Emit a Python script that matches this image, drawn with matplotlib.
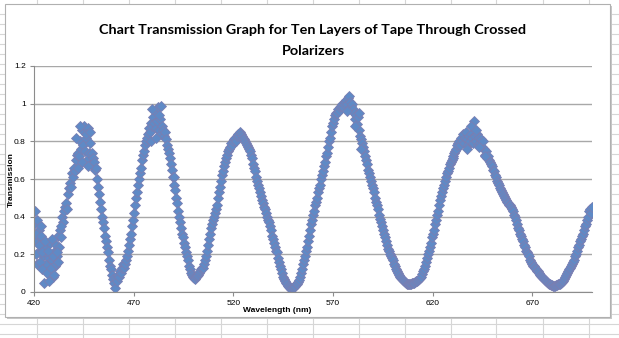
import numpy as np
import matplotlib
matplotlib.use("Agg")
import matplotlib.pyplot as plt
from matplotlib.lines import Line2D
from matplotlib.patches import Rectangle

# transmission readings, one every 0.5 nm from 420 to 700 nm
wavelength = np.arange(420.0, 700.01, 0.5)
transmission = [
    0.36, 0.43, 0.30, 0.38, 0.27, 0.33, 0.22, 0.35, 0.26, 0.19,
    0.05, 0.24, 0.15, 0.20, 0.10, 0.18, 0.26, 0.12, 0.17, 0.08,
    0.21, 0.14, 0.25, 0.19, 0.30, 0.24, 0.33, 0.29, 0.40, 0.37,
    0.43, 0.45, 0.47, 0.44, 0.52, 0.55, 0.58, 0.56, 0.63, 0.61,
    0.66, 0.64, 0.70, 0.73, 0.74, 0.72, 0.80, 0.76, 0.86, 0.78,
    0.88, 0.75, 0.82, 0.70, 0.87, 0.74, 0.79, 0.68, 0.74, 0.71,
    0.69, 0.65, 0.66, 0.60, 0.56, 0.52, 0.48, 0.44, 0.40, 0.37,
    0.34, 0.30, 0.27, 0.24, 0.21, 0.17, 0.14, 0.12, 0.09, 0.07,
    0.05, 0.02, 0.07, 0.06, 0.09, 0.08, 0.11, 0.10, 0.13, 0.15,
    0.13, 0.15, 0.17, 0.19, 0.22, 0.25, 0.28, 0.31, 0.35, 0.38,
    0.42, 0.46, 0.50, 0.53, 0.57, 0.60, 0.63, 0.66, 0.70, 0.73,
    0.75, 0.78, 0.80, 0.82, 0.84, 0.87, 0.85, 0.90, 0.88, 0.93,
    0.90, 0.96, 0.87, 0.91, 0.98, 0.86, 0.92, 0.84, 0.88, 0.86,
    0.83, 0.85, 0.81, 0.78, 0.76, 0.74, 0.71, 0.68, 0.65, 0.61,
    0.61, 0.57, 0.54, 0.50, 0.47, 0.43, 0.40, 0.37, 0.34, 0.31,
    0.29, 0.26, 0.24, 0.21, 0.19, 0.17, 0.14, 0.12, 0.10, 0.09,
    0.08, 0.075, 0.07, 0.08, 0.085, 0.09, 0.10, 0.11, 0.12, 0.13,
    0.13, 0.15, 0.17, 0.19, 0.22, 0.25, 0.28, 0.31, 0.34, 0.36,
    0.38, 0.40, 0.42, 0.44, 0.46, 0.50, 0.53, 0.56, 0.59, 0.62,
    0.64, 0.67, 0.69, 0.71, 0.73, 0.75, 0.76, 0.77, 0.79, 0.78,
    0.80, 0.81, 0.82, 0.80, 0.83, 0.84, 0.83, 0.85, 0.84, 0.83,
    0.82, 0.81, 0.80, 0.79, 0.78, 0.77, 0.76, 0.75, 0.73, 0.71,
    0.68, 0.66, 0.64, 0.61, 0.59, 0.57, 0.55, 0.53, 0.51, 0.49,
    0.47, 0.45, 0.44, 0.42, 0.40, 0.38, 0.37, 0.35, 0.33, 0.30,
    0.28, 0.26, 0.24, 0.22, 0.21, 0.18, 0.16, 0.14, 0.12, 0.10,
    0.08, 0.07, 0.06, 0.05, 0.04, 0.03, 0.025, 0.02, 0.015, 0.02,
    0.02, 0.025, 0.03, 0.04, 0.045, 0.055, 0.065, 0.08, 0.10, 0.12,
    0.15, 0.17, 0.19, 0.22, 0.24, 0.27, 0.30, 0.33, 0.36, 0.38,
    0.41, 0.43, 0.46, 0.48, 0.50, 0.53, 0.55, 0.57, 0.60, 0.62,
    0.64, 0.67, 0.69, 0.72, 0.74, 0.77, 0.80, 0.82, 0.85, 0.88,
    0.90, 0.92, 0.94, 0.95, 0.95, 0.97, 0.96, 0.98, 0.99, 1.00,
    0.98, 1.00, 1.01, 1.02, 1.00, 1.03, 1.04, 1.01, 0.99, 1.00,
    0.97, 0.95, 0.92, 0.94, 0.89, 0.93, 0.86, 0.83, 0.81, 0.79,
    0.77, 0.75, 0.72, 0.70, 0.68, 0.65, 0.63, 0.61, 0.59, 0.57,
    0.55, 0.53, 0.50, 0.48, 0.46, 0.44, 0.41, 0.39, 0.37, 0.35,
    0.33, 0.31, 0.29, 0.27, 0.25, 0.23, 0.22, 0.20, 0.19, 0.18,
    0.17, 0.15, 0.14, 0.12, 0.11, 0.10, 0.09, 0.08, 0.075, 0.07,
    0.065, 0.06, 0.055, 0.05, 0.045, 0.04, 0.04, 0.04, 0.045, 0.05,
    0.05, 0.05, 0.055, 0.06, 0.06, 0.065, 0.07, 0.075, 0.08, 0.095,
    0.11, 0.12, 0.14, 0.16, 0.18, 0.20, 0.22, 0.24, 0.26, 0.29,
    0.31, 0.33, 0.36, 0.38, 0.41, 0.43, 0.46, 0.49, 0.51, 0.53,
    0.55, 0.57, 0.59, 0.61, 0.63, 0.64, 0.66, 0.68, 0.69, 0.70,
    0.71, 0.72, 0.74, 0.75, 0.76, 0.78, 0.79, 0.80, 0.78, 0.82,
    0.80, 0.84, 0.79, 0.82, 0.85, 0.81, 0.78, 0.83, 0.80, 0.84,
    0.82, 0.79, 0.91, 0.83, 0.80, 0.84, 0.78, 0.82, 0.79, 0.81,
    0.77, 0.80, 0.76, 0.73, 0.75, 0.71, 0.72, 0.70, 0.69, 0.68,
    0.67, 0.65, 0.64, 0.62, 0.61, 0.59, 0.58, 0.57, 0.55, 0.54,
    0.53, 0.52, 0.51, 0.50, 0.49, 0.48, 0.47, 0.46, 0.46, 0.45,
    0.44, 0.43, 0.41, 0.40, 0.38, 0.36, 0.34, 0.33, 0.31, 0.30,
    0.28, 0.27, 0.25, 0.24, 0.22, 0.21, 0.20, 0.19, 0.17, 0.16,
    0.15, 0.14, 0.14, 0.13, 0.12, 0.11, 0.11, 0.10, 0.09, 0.085,
    0.08, 0.075, 0.07, 0.065, 0.06, 0.055, 0.05, 0.045, 0.04, 0.035,
    0.035, 0.03, 0.03, 0.03, 0.035, 0.035, 0.04, 0.04, 0.045, 0.05,
    0.055, 0.06, 0.07, 0.08, 0.09, 0.10, 0.11, 0.12, 0.13, 0.14,
    0.15, 0.16, 0.17, 0.19, 0.20, 0.22, 0.24, 0.25, 0.27, 0.28,
    0.30, 0.31, 0.33, 0.35, 0.36, 0.38, 0.40, 0.43, 0.44, 0.42,
    0.45,
]

# repeat readings in the noisy stretches
extra_wl = [420.2, 420.8, 421.2, 421.7, 422.3, 422.8, 423.3, 423.8, 424.2,
            425.7, 426.3, 427.2, 427.7, 428.3, 428.8, 429.3, 430.2, 430.8,
            431.3, 432.2, 433.3, 441.2, 442.3, 443.2, 444.2, 446.2, 447.2,
            448.3, 478.8, 479.3, 481.2, 482.7, 483.8, 577.2, 581.3, 583.3,
            584.2, 637.3, 639.2, 641.7, 643.3, 646.3]
extra_t = [0.27, 0.31, 0.20, 0.15, 0.25, 0.16, 0.30, 0.12, 0.21,
           0.27, 0.10, 0.22, 0.06, 0.13, 0.28, 0.19, 0.09, 0.15,
           0.21, 0.16, 0.35, 0.82, 0.66, 0.88, 0.69, 0.84, 0.67,
           0.85, 0.80, 0.97, 0.82, 0.94, 0.99, 0.96, 0.88, 0.95,
           0.76, 0.76, 0.88, 0.86, 0.77, 0.72]

x_ticks = [420, 470, 520, 570, 620, 670]
y_ticks = [0, 0.2, 0.4, 0.6, 0.8, 1.0, 1.2]
y_labels = ["0", "0.2", "0.4", "0.6", "0.8", "1", "1.2"]

W, H = 619, 338
fig = plt.figure(figsize=(W / 100, H / 100), dpi=100)
fig.patch.set_facecolor("white")

# worksheet cells behind the chart
for cx in np.arange(36.5, W, 46):
    fig.add_artist(Line2D([cx / W, cx / W], [0, 1], color="#d6d6d6", lw=0.8, zorder=0))
for ry in np.arange(14, H, 10):
    fig.add_artist(Line2D([0, 1], [1 - ry / H, 1 - ry / H], color="#d6d6d6", lw=0.8, zorder=0))

# chart frame with a soft shadow
fig.add_artist(Rectangle((7 / W, 19 / H), 605 / W, 313 / H, facecolor="#c8c8c8",
                         edgecolor="none", zorder=1))
fig.add_artist(Rectangle((5 / W, 21 / H), 605 / W, 313 / H, facecolor="white",
                         edgecolor="#b0b0b0", lw=0.8, zorder=2))

ax = fig.add_axes([34 / W, 46 / H, 558 / W, 226 / H], zorder=3)
ax.set_facecolor("none")

marker_style = dict(linestyle="none", marker="D", markersize=4.6,
                    markerfacecolor="#5f8ac6", markeredgecolor="#7a7fb3",
                    markeredgewidth=0.6)
ax.plot(wavelength, transmission, **marker_style)
ax.plot(extra_wl, extra_t, **marker_style)

ax.set_xlim(420, 700)
ax.set_ylim(0, 1.2)
ax.set_xticks(x_ticks)
ax.set_yticks(y_ticks)
ax.set_yticklabels(y_labels)
ax.grid(axis="y", color="#a8a8a8", lw=1.0)
ax.set_axisbelow(True)

for side in ["top", "right"]:
    ax.spines[side].set_visible(False)
for side in ["left", "bottom"]:
    ax.spines[side].set_color("#8c8c8c")
    ax.spines[side].set_linewidth(0.8)

ax.tick_params(direction="out", length=3, width=0.8, color="#8c8c8c",
               labelsize=6, pad=3)
for lab in ax.get_xticklabels() + ax.get_yticklabels():
    lab.set_fontfamily("Liberation Sans")

fig.text(313 / W, 1 - 30 / H, "Chart Transmission Graph for Ten Layers of Tape Through Crossed",
         ha="center", va="center", fontsize=10.4, fontweight="bold", family="Lato", zorder=4)
fig.text(313 / W, 1 - 51 / H, "Polarizers",
         ha="center", va="center", fontsize=10.4, fontweight="bold", family="Lato", zorder=4)
fig.text(11 / W, 1 - 180 / H, "Transmission", rotation=90, ha="center", va="center",
         fontsize=6, fontweight="bold", family="Liberation Sans", zorder=4)
fig.text(277 / W, 1 - 310 / H, "Wavelength (nm)", ha="center", va="center",
         fontsize=6, fontweight="bold", family="Liberation Sans", zorder=4)

fig.savefig("out.png", dpi=100)
